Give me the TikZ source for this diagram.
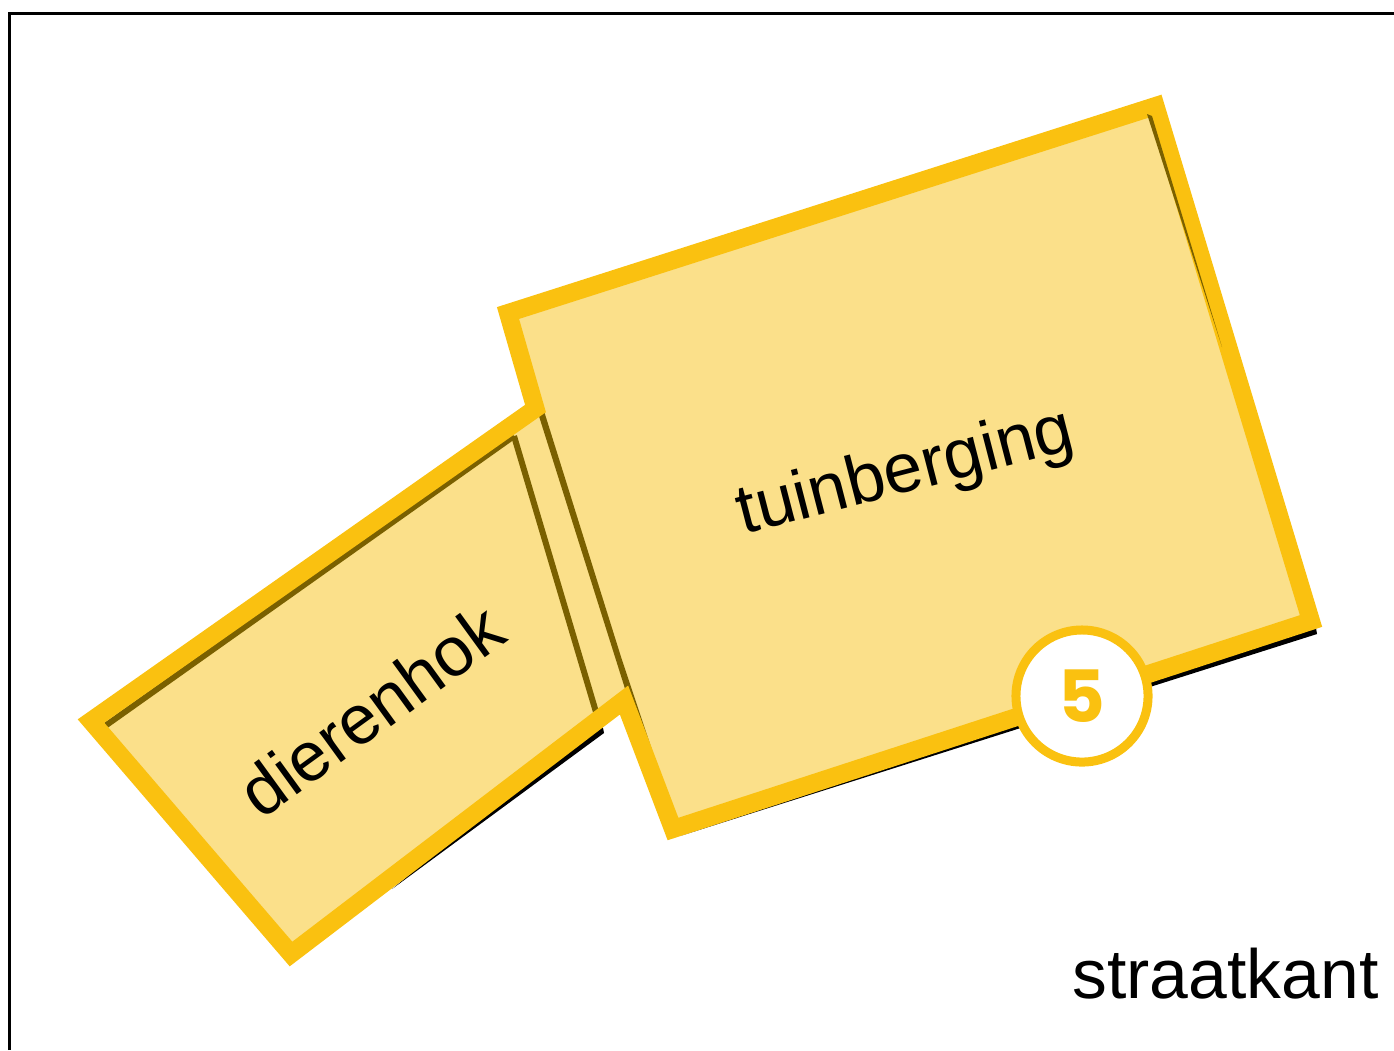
\documentclass[tikz,border=0pt]{standalone}
\usepackage{fontspec}
\setmainfont{Liberation Sans}
\newfontfamily\numfont{Poppins}
\definecolor{rimyellow}{HTML}{FAC110}
\definecolor{paleyellow}{HTML}{FBE08A}
\definecolor{walldark}{HTML}{7A6000}
\tikzset{
  roomlabel/.style={font=\fontsize{19.8pt}{22pt}\selectfont,text=black,inner sep=0pt},
  numberbadge/.style={circle,draw=rimyellow,line width=0.09cm,fill=white,minimum size=1.32cm,inner sep=0pt,
    text=rimyellow,font=\numfont\bfseries\fontsize{20.5pt}{24pt}\selectfont},
  rim/.style={draw=rimyellow,line width=0.18cm,miter limit=10,line join=miter}
}
\begin{document}
\begin{tikzpicture}[x=0.01cm,y=-0.01cm]
\useasboundingbox (0,0) rectangle (1394,1050);
% frame
\draw[line width=0.03cm] (9.5,1050) -- (9.5,13) -- (1394,13);

% shadows
\fill[black] (596,720) -- (603,728) -- (604,733) -- (392,889) -- cycle;
\fill[black] (1312,625) -- (1316,628) -- (1317,634) -- (680,836) -- cycle;

% floor
\fill[paleyellow] (508,313) -- (1155.5,106) -- (1311,621) -- (673,829) -- (624,700)
  -- (291,954) -- (91,721) -- (535.5,408.5) -- cycle;

% walls
\draw[walldark,line width=0.06cm] (514,436) -- (596,712);
\draw[walldark,line width=0.06cm] (105,726) -- (514,436);
\fill[walldark] (538,413) -- (544,411) -- (622,660) -- (652,750) -- (645,752) -- cycle;

% outline
\draw[rim] (508,313) -- (1155.5,106) -- (1311,621) -- (673,829) -- (624,700)
  -- (291,954) -- (91,721) -- (535.5,408.5) -- cycle;
\fill[walldark] (1147,114) -- (1152,116) -- (1222,347) -- cycle;

\node[roomlabel,rotate=14.5] (tuinberging) at (906,474) {tuinberging};
\node[roomlabel,rotate=36] (dierenhok) at (371,710) {dierenhok};
\node[roomlabel] (straatkant) at (1225.5,974) {straatkant};
\node[numberbadge] (badge) at (1082,696) {5};
\end{tikzpicture}
\end{document}
